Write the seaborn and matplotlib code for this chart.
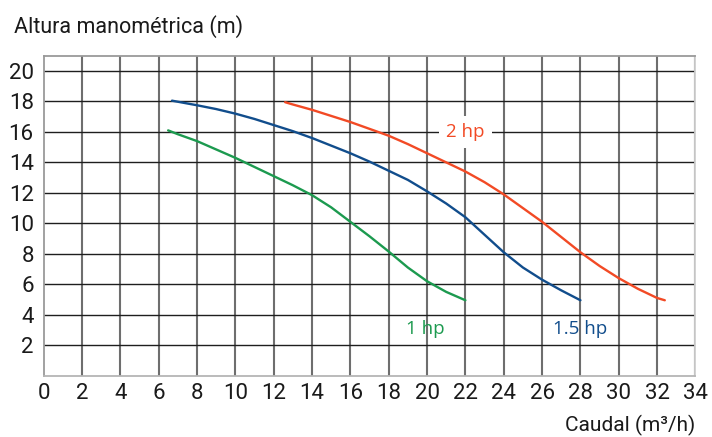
import seaborn as sns
import matplotlib.pyplot as plt
import pandas as pd

# curve values (caudal m3/h, altura m)
x_1hp = [6.5, 7, 8, 9, 10, 11, 12, 13, 14, 15, 16, 17, 18, 19, 20, 21, 22]
y_1hp = [16.1, 15.85, 15.4, 14.85, 14.3, 13.7, 13.1, 12.5, 11.85, 11.05, 10.1, 9.15, 8.15, 7.1, 6.2, 5.5, 4.95]

x_15hp = [6.7, 8, 9, 10, 11, 12, 13, 14, 15, 16, 17, 18, 19, 20, 21, 22, 23, 24, 25, 26, 27, 28]
y_15hp = [18.05, 17.75, 17.5, 17.2, 16.85, 16.45, 16.05, 15.6, 15.1, 14.6, 14.05, 13.45, 12.85, 12.1, 11.3, 10.4, 9.25, 8.1, 7.1, 6.3, 5.6, 4.95]

x_2hp = [12.6, 13, 14, 15, 16, 17, 18, 19, 20, 21, 22, 23, 24, 25, 26, 27, 28, 29, 30, 31, 32, 32.4]
y_2hp = [17.95, 17.8, 17.45, 17.05, 16.65, 16.2, 15.75, 15.2, 14.6, 14.0, 13.4, 12.7, 11.9, 11.0, 10.1, 9.1, 8.1, 7.2, 6.4, 5.7, 5.1, 4.95]

series_names = ['1 hp', '1.5 hp', '2 hp']
colors = ['#1c9a4f', '#114d8c', '#f24a25']

x_ticks = list(range(0, 35, 2))
y_ticks = list(range(0, 21, 2))

# long form dataframe
df = pd.concat([
    pd.DataFrame({'Caudal': x_1hp, 'Altura': y_1hp, 'Motor': '1 hp'}),
    pd.DataFrame({'Caudal': x_15hp, 'Altura': y_15hp, 'Motor': '1.5 hp'}),
    pd.DataFrame({'Caudal': x_2hp, 'Altura': y_2hp, 'Motor': '2 hp'}),
], ignore_index=True)

sns.set_style("white")
plt.rcParams['font.family'] = ['Roboto', 'DejaVu Sans']

fig = plt.figure(figsize=(7.12, 4.37), dpi=100)
ax = fig.add_axes([0.0611, 0.1403, 0.9157, 0.7322])

# grid
for xv in x_ticks[1:]:
    ax.axvline(xv, color='#6e6e6e', lw=1.5, zorder=1)
for yv in y_ticks[1:]:
    ax.axhline(yv, color='#1e1e1e', lw=1.0, zorder=1)

sns.lineplot(data=df, x='Caudal', y='Altura', hue='Motor', hue_order=series_names,
             palette=dict(zip(series_names, colors)), lw=1.7, legend=False,
             sort=False, ax=ax, zorder=3)

ax.set_xlim(0, 34)
ax.set_ylim(0, 21)
ax.set_xticks(x_ticks)
ax.set_yticks(y_ticks)
ax.set_yticklabels([''] + [str(v) for v in y_ticks[1:]])
ax.tick_params(axis='both', length=0, labelsize=16, colors='#1a1a1a')
ax.tick_params(axis='y', pad=7)
ax.tick_params(axis='x', pad=5)
ax.set_xlabel('')
ax.set_ylabel('')

for side in ['left', 'bottom', 'top', 'right']:
    ax.spines[side].set_visible(True)
    ax.spines[side].set_color('#9a9a9a')
    ax.spines[side].set_linewidth(1.3)
ax.spines['right'].set_color('#cfcfcf')
ax.spines['bottom'].set_color('#b5b5b5')

# series labels
lab_font = ['Open Sans', 'DejaVu Sans']
ax.text(22, 16, '2 hp', color=colors[2], fontsize=13.5, family=lab_font, ha='center', va='center',
        bbox=dict(facecolor='white', edgecolor='none', pad=5), zorder=4)
ax.text(19.9, 3.05, '1 hp', color=colors[0], fontsize=13.5, family=lab_font, ha='center', va='center', zorder=4)
ax.text(28.0, 3.05, '1.5 hp', color=colors[1], fontsize=13.5, family=lab_font, ha='center', va='center', zorder=4)

# axis titles
fig.text(14 / 712, 1 - 27 / 437, 'Altura manométrica (m)', fontsize=15.5, color='#1a1a1a',
         ha='left', va='center')
fig.text(695 / 712, 1 - 425 / 437, 'Caudal (m³/h)', fontsize=15, color='#1a1a1a',
         ha='right', va='center')

plt.savefig('out.png', dpi=100)
